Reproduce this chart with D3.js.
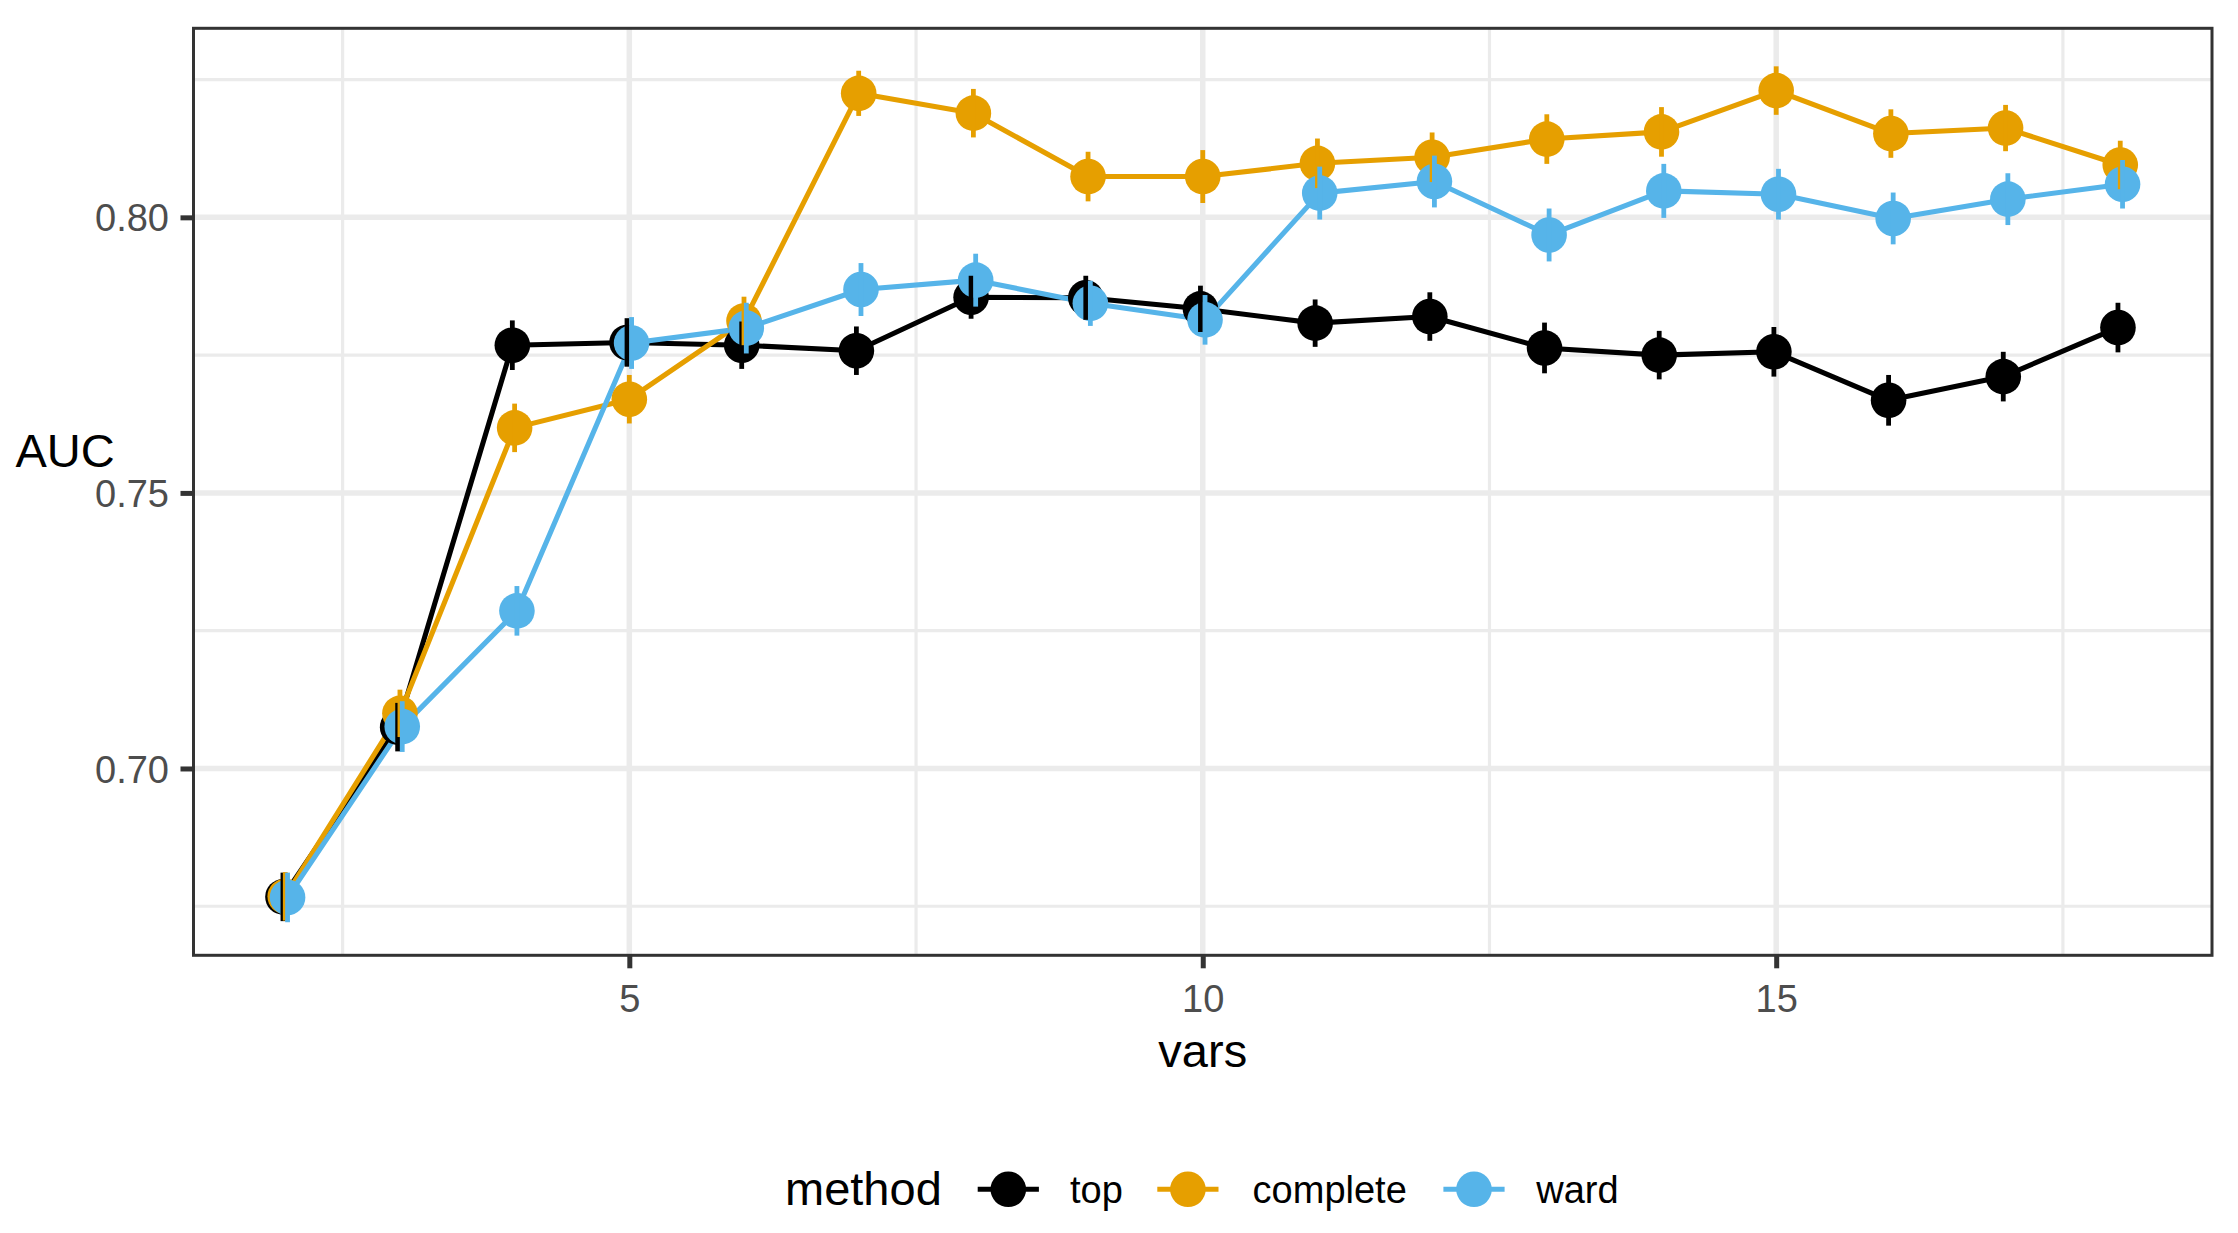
<!DOCTYPE html>
<html>
<head>
<meta charset="utf-8">
<script src="https://cdn.jsdelivr.net/npm/d3@7"></script>
<style>
  html, body { margin: 0; padding: 0; background: #fff; }
  svg { display: block; }
  text { font-family: "Liberation Sans", Arial, Helvetica, sans-serif; }
</style>
</head>
<body>
<svg id="chart" width="2238" height="1233"></svg>
<script>
// ---------------- data ----------------
const vars = [2, 3, 4, 5, 6, 7, 8, 9, 10, 11, 12, 13, 14, 15, 16, 17, 18];
const methods = ["top", "complete", "ward"];
const aucTop      = [0.6767, 0.7075, 0.7768, 0.7773, 0.7768, 0.7758, 0.7855, 0.7854, 0.7834, 0.7808, 0.7820, 0.7763, 0.7750, 0.7756, 0.7668, 0.7711, 0.7800];
const aucComplete = [0.6768, 0.7100, 0.7618, 0.7670, 0.7812, 0.8225, 0.8189, 0.8074, 0.8074, 0.8098, 0.8109, 0.8142, 0.8155, 0.8230, 0.8152, 0.8162, 0.8095];
const aucWard     = [0.6766, 0.7076, 0.7286, 0.7772, 0.7799, 0.7869, 0.7886, 0.7844, 0.7814, 0.8044, 0.8065, 0.7968, 0.8048, 0.8042, 0.7998, 0.8033, 0.8060];
const errTop      = [0.0044, 0.0044, 0.0045, 0.0044, 0.0043, 0.0044, 0.0039, 0.0040, 0.0042, 0.0043, 0.0044, 0.0046, 0.0044, 0.0045, 0.0046, 0.0045, 0.0045];
const errComplete = [0.0044, 0.0043, 0.0044, 0.0044, 0.0044, 0.0041, 0.0044, 0.0045, 0.0048, 0.0045, 0.0045, 0.0045, 0.0045, 0.0044, 0.0044, 0.0042, 0.0044];
const errWard     = [0.0045, 0.0046, 0.0045, 0.0047, 0.0046, 0.0048, 0.0048, 0.0041, 0.0045, 0.0048, 0.0047, 0.0048, 0.0049, 0.0046, 0.0047, 0.0047, 0.0044];
const xTicks = [5, 10, 15];
const xMinor = [2.5, 7.5, 12.5, 17.5];
const yTicks = [0.70, 0.75, 0.80];
const yMinor = [0.675, 0.725, 0.775, 0.825];
const xTitle = "vars";
const yTitle = "AUC";
const legendTitle = "method";

// ---------------- styles / layout ----------------
const colors = { top: "#000000", complete: "#E69F00", ward: "#56B4E9" };
const dodge = { top: -0.02, complete: 0, ward: 0.02 };
const panel = { left: 193.5, right: 2212, top: 28.3, bottom: 955.3 };
const axisTextSize = 38, titleSize = 47;
const pointR = 17.8, lineW = 5.1, barW = 4.8;
const gridMajor = 5.5, gridMinor = 3.2;

const series = [
  { method: "top", auc: aucTop, err: errTop },
  { method: "complete", auc: aucComplete, err: errComplete },
  { method: "ward", auc: aucWard, err: errWard }
].map(s => ({ method: s.method, values: vars.map((v, i) => ({ x: v, y: s.auc[i], e: s.err[i] })) }));

const svg = d3.select("#chart");
const x = d3.scaleLinear().domain([1.2, 18.8]).range([panel.left, panel.right]);
const y = d3.scaleLinear().domain([0.6661, 0.8343]).range([panel.bottom, panel.top]);

// clip for panel
svg.append("defs").append("clipPath").attr("id", "panelClip").append("rect")
  .attr("x", panel.left).attr("y", panel.top)
  .attr("width", panel.right - panel.left).attr("height", panel.bottom - panel.top);

// grid
const grid = svg.append("g").attr("clip-path", "url(#panelClip)");
grid.selectAll(".ymin").data(yMinor).join("line")
  .attr("x1", panel.left).attr("x2", panel.right)
  .attr("y1", d => y(d)).attr("y2", d => y(d))
  .attr("stroke", "#EBEBEB").attr("stroke-width", gridMinor);
grid.selectAll(".xmin").data(xMinor).join("line")
  .attr("y1", panel.top).attr("y2", panel.bottom)
  .attr("x1", d => x(d)).attr("x2", d => x(d))
  .attr("stroke", "#EBEBEB").attr("stroke-width", gridMinor);
grid.selectAll(".ymaj").data(yTicks).join("line")
  .attr("x1", panel.left).attr("x2", panel.right)
  .attr("y1", d => y(d)).attr("y2", d => y(d))
  .attr("stroke", "#EBEBEB").attr("stroke-width", gridMajor);
grid.selectAll(".xmaj").data(xTicks).join("line")
  .attr("y1", panel.top).attr("y2", panel.bottom)
  .attr("x1", d => x(d)).attr("x2", d => x(d))
  .attr("stroke", "#EBEBEB").attr("stroke-width", gridMajor);

// lines
const line = d3.line().x(d => x(d.x)).y(d => y(d.y));
const plot = svg.append("g");
series.forEach(s => {
  plot.append("path")
    .datum(s.values.map(v => ({ x: v.x + dodge[s.method], y: v.y })))
    .attr("d", line)
    .attr("fill", "none")
    .attr("stroke", colors[s.method])
    .attr("stroke-width", lineW)
    .attr("stroke-linejoin", "round");
});
// points
series.forEach(s => {
  plot.append("g").selectAll("circle").data(s.values).join("circle")
    .attr("cx", d => x(d.x + dodge[s.method]))
    .attr("cy", d => y(d.y))
    .attr("r", pointR)
    .attr("fill", colors[s.method]);
});
// error bars
series.forEach(s => {
  plot.append("g").selectAll("line").data(s.values).join("line")
    .attr("x1", d => x(d.x + dodge[s.method]))
    .attr("x2", d => x(d.x + dodge[s.method]))
    .attr("y1", d => y(d.y - d.e))
    .attr("y2", d => y(d.y + d.e))
    .attr("stroke", colors[s.method])
    .attr("stroke-width", barW);
});

// panel border
svg.append("rect")
  .attr("x", panel.left).attr("y", panel.top)
  .attr("width", panel.right - panel.left).attr("height", panel.bottom - panel.top)
  .attr("fill", "none").attr("stroke", "#333333").attr("stroke-width", 3);

// axes
const xAxis = d3.axisBottom(x).tickValues(xTicks).tickSize(13).tickPadding(9).tickFormat(d3.format("d"));
const gx = svg.append("g").attr("transform", `translate(0,${panel.bottom})`).call(xAxis);
gx.select(".domain").remove();
gx.selectAll(".tick line").attr("stroke", "#333333").attr("stroke-width", 5);
gx.selectAll(".tick text").attr("fill", "#4D4D4D").attr("font-size", axisTextSize)
  .attr("dy", null).attr("y", 56.5);

const yAxis = d3.axisLeft(y).tickValues(yTicks).tickSize(13).tickPadding(11).tickFormat(d3.format(".2f"));
const gy = svg.append("g").attr("transform", `translate(${panel.left},0)`).call(yAxis);
gy.select(".domain").remove();
gy.selectAll(".tick line").attr("stroke", "#333333").attr("stroke-width", 5);
gy.selectAll(".tick text").attr("fill", "#4D4D4D").attr("font-size", axisTextSize)
  .attr("dy", null).attr("x", -24.5).attr("y", 13.6);

// titles
svg.append("text").attr("x", (panel.left + panel.right) / 2).attr("y", 1066.7)
  .attr("text-anchor", "middle").attr("font-size", titleSize).attr("fill", "#000").text(xTitle);
svg.append("text").attr("x", 15.5).attr("y", 467)
  .attr("text-anchor", "start").attr("font-size", titleSize).attr("fill", "#000").text(yTitle);

// legend
const legend = svg.append("g");
legend.append("text").attr("x", 785).attr("y", 1205)
  .attr("font-size", titleSize).attr("fill", "#000").text(legendTitle);
const keyCenters = [1008.3, 1187.9, 1474];
const labelX = [1070, 1252.6, 1536.3];
const keyY = 1189.3;
methods.forEach((m, i) => {
  const g = legend.append("g");
  g.append("line").attr("x1", keyCenters[i] - 30.6).attr("x2", keyCenters[i] + 30.6)
    .attr("y1", keyY).attr("y2", keyY).attr("stroke", colors[m]).attr("stroke-width", lineW);
  g.append("circle").attr("cx", keyCenters[i]).attr("cy", keyY).attr("r", pointR).attr("fill", colors[m]);
  g.append("text").attr("x", labelX[i]).attr("y", 1203.3)
    .attr("font-size", axisTextSize).attr("fill", "#000").text(m);
});
</script>
</body>
</html>
